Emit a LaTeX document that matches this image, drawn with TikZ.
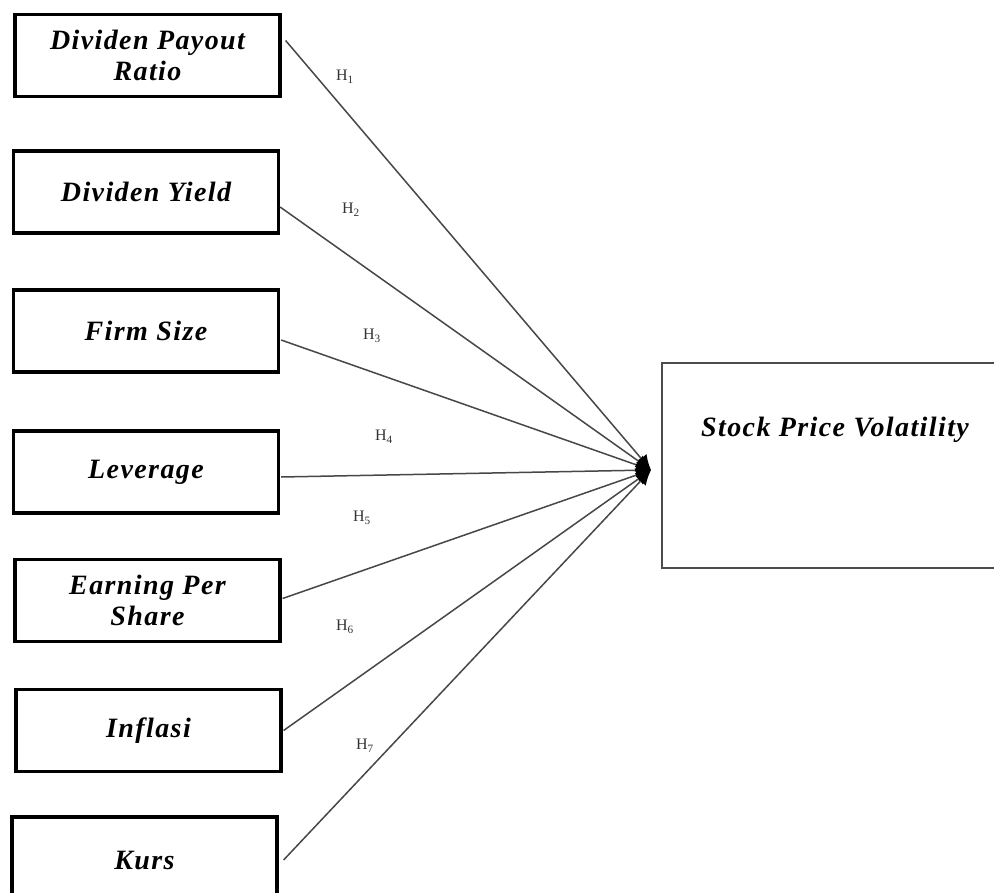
\documentclass[tikz,border=0pt]{standalone}
\usepackage{fontspec}
\setmainfont{Liberation Serif}
\newfontfamily\boxfont[LetterSpace=5]{Liberation Serif}
\usetikzlibrary{arrows.meta}
\tikzset{
  varbox/.style={draw=black, line width=3.2pt, minimum width=265pt, minimum height=82pt,
    inner sep=0pt, align=center, font=\boxfont\fontsize{28}{31}\selectfont\bfseries\itshape},
  depbox/.style={draw=black!70, line width=1.5pt, minimum width=340pt, minimum height=205pt, inner sep=0pt},
  link/.style={draw=black!72, line width=1.5pt, -{Latex[length=15pt,width=14pt,black]}},
  hlab/.style={font=\fontsize{16}{16}\selectfont, text=black!80, inner sep=1pt}
}
\newcommand{\hyp}[1]{H\textsubscript{#1}}
\begin{document}
\begin{tikzpicture}[x=1pt,y=-1pt]
\clip (0,0) rectangle (994,893);
\fill[white] (0,0) rectangle (994,893);
\node[varbox] (dpr) at (147.5,55.5) {Dividen Payout\\Ratio};
\node[varbox] (dy) at (146,192) {Dividen Yield};
\node[varbox] (fs) at (146,331) {Firm Size};
\node[varbox] (lev) at (146,472) {Leverage};
\node[varbox] (eps) at (147.5,600.5) {Earning Per\\Share};
\node[varbox] (inf) at (148.5,730.5) {Inflasi};
\node[varbox, minimum height=86pt] (kurs) at (144.5,860) {Kurs};
\node[depbox] (spv) at (832,465.5) {};
\node[font=\boxfont\fontsize{28}{31}\selectfont\bfseries\itshape] (spvt) at (835,430) {Stock Price Volatility};
\coordinate (tip) at (651,470);
\draw[link] (dpr.east) ++(4,-15) coordinate (s1) -- (tip);
\draw[link] (dy.east) ++(0,15) coordinate (s2) -- (tip);
\draw[link] (fs.east) ++(1,9) coordinate (s3) -- (tip);
\draw[link] (lev.east) ++(1,5) coordinate (s4) -- (tip);
\draw[link] (eps.east) ++(1,-2) coordinate (s5) -- (tip);
\draw[link] (inf.east) ++(1,0) coordinate (s6) -- (tip);
\draw[link] (kurs.east) ++(5,0) coordinate (s7) -- (tip);
\node[hlab] (h1) at (345,77) {\hyp{1}};
\node[hlab] (h2) at (351,210) {\hyp{2}};
\node[hlab] (h3) at (372,336) {\hyp{3}};
\node[hlab] (h4) at (384,437) {\hyp{4}};
\node[hlab] (h5) at (362,518) {\hyp{5}};
\node[hlab] (h6) at (345,627) {\hyp{6}};
\node[hlab] (h7) at (365,746) {\hyp{7}};
\end{tikzpicture}
\end{document}
